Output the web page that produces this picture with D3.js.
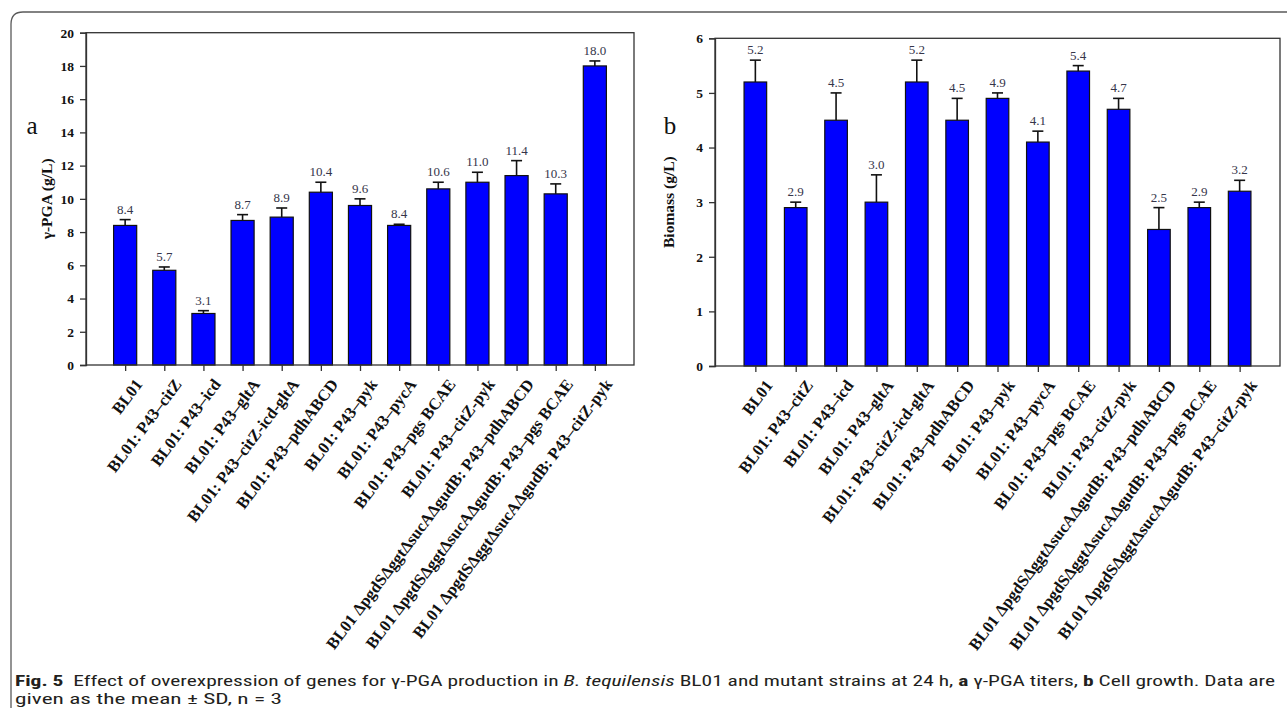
<!DOCTYPE html>
<html>
<head>
<meta charset="utf-8">
<script src="https://cdn.jsdelivr.net/npm/d3@7/dist/d3.min.js"></script>
<style>
  html, body { margin: 0; padding: 0; background: #fff; }
  svg { display: block; }
</style>
</head>
<body>
<svg id="fig" width="1287" height="708"></svg>
<script>
// Strains tested (same order in both panels)
const strains = [
  "BL01",
  "BL01: P43–citZ",
  "BL01: P43–icd",
  "BL01: P43–gltA",
  "BL01: P43–citZ-icd-gltA",
  "BL01: P43–pdhABCD",
  "BL01: P43–pyk",
  "BL01: P43–pycA",
  "BL01: P43–pgs BCAE",
  "BL01: P43–citZ-pyk",
  "BL01 ΔpgdSΔggtΔsucAΔgudB: P43–pdhABCD",
  "BL01 ΔpgdSΔggtΔsucAΔgudB: P43–pgs BCAE",
  "BL01 ΔpgdSΔggtΔsucAΔgudB: P43–citZ-pyk"
];

// Panel a: γ-PGA titer (g/L), mean and SD
const titer   = [8.4, 5.7, 3.1, 8.7, 8.9, 10.4, 9.6, 8.4, 10.6, 11.0, 11.4, 10.3, 18.0];
const titerSD = [0.35, 0.2, 0.17, 0.35, 0.55, 0.6, 0.4, 0.07, 0.4, 0.6, 0.9, 0.6, 0.3];

// Panel b: biomass (g/L), mean and SD
const biomass   = [5.2, 2.9, 4.5, 3.0, 5.2, 4.5, 4.9, 4.1, 5.4, 4.7, 2.5, 2.9, 3.2];
const biomassSD = [0.4, 0.1, 0.5, 0.5, 0.4, 0.4, 0.1, 0.2, 0.1, 0.2, 0.4, 0.1, 0.2];

const titerTicks   = [0, 2, 4, 6, 8, 10, 12, 14, 16, 18, 20];
const biomassTicks = [0, 1, 2, 3, 4, 5, 6];

const svg = d3.select("#fig");
const serif = "'Liberation Serif', 'Times New Roman', serif";

// Outer rounded frame of the figure
svg.append("path")
  .attr("d", "M11,720 L11,24 Q11,12 23,12 L1300,12")
  .attr("fill", "none").attr("stroke", "#5a5a5a").attr("stroke-width", 1.3);

function panel(opts) {
  const { left, right, top, bottom, max, ticks, values, sds, ylabel, letter,
          ylabelX, letterX, letterY, barFrac } = opts;
  const g = svg.append("g");

  const x = d3.scalePoint().domain(strains).range([left, right]).padding(1);
  const y = d3.scaleLinear().domain([0, max]).range([bottom, top]);
  const bw = x.step() * barFrac;

  // bars
  g.selectAll("rect.bar").data(values).join("rect")
    .attr("class", "bar")
    .attr("x", (d, i) => x(strains[i]) - bw / 2)
    .attr("y", d => y(d))
    .attr("width", bw)
    .attr("height", d => y(0) - y(d))
    .attr("fill", "#0000ff")
    .attr("stroke", "#111").attr("stroke-width", 1.2);

  // upper error bars
  const err = g.append("g").attr("stroke", "#111").attr("stroke-width", 1.6);
  values.forEach((v, i) => {
    const cx = x(strains[i]);
    err.append("line").attr("x1", cx).attr("x2", cx)
      .attr("y1", y(v)).attr("y2", y(v + sds[i]));
    err.append("line").attr("x1", cx - 5.5).attr("x2", cx + 5.5)
      .attr("y1", y(v + sds[i])).attr("y2", y(v + sds[i]));
  });

  // value labels
  g.selectAll("text.val").data(values).join("text")
    .attr("class", "val")
    .attr("x", (d, i) => x(strains[i]))
    .attr("y", (d, i) => y(d + sds[i]) - 6)
    .attr("text-anchor", "middle")
    .attr("font-family", serif).attr("font-size", 13)
    .attr("fill", "#35354a")
    .text(d => d.toFixed(1));

  // plot frame
  g.append("rect")
    .attr("x", left).attr("y", top)
    .attr("width", right - left).attr("height", bottom - top)
    .attr("fill", "none").attr("stroke", "#333").attr("stroke-width", 1.3);

  // y axis
  const ya = g.append("g").attr("transform", `translate(${left},0)`)
    .call(d3.axisLeft(y).tickValues(ticks).tickSize(6).tickPadding(6).tickFormat(d3.format("d")));
  ya.select(".domain").attr("stroke", "#333").attr("stroke-width", 1.3);
  ya.selectAll(".tick line").attr("stroke", "#333").attr("stroke-width", 1.3);
  ya.selectAll(".tick text")
    .attr("font-family", serif).attr("font-size", 13.5).attr("font-weight", "bold")
    .attr("fill", "#111");

  // x axis with rotated strain names
  const xa = g.append("g").attr("transform", `translate(0,${bottom})`)
    .call(d3.axisBottom(x).tickSize(6).tickPadding(4));
  xa.select(".domain").remove();
  xa.selectAll(".tick line").attr("stroke", "#333").attr("stroke-width", 1.3);
  xa.selectAll(".tick text")
    .attr("font-family", serif).attr("font-size", 16.5).attr("font-weight", "bold")
    .attr("fill", "#111")
    .attr("text-anchor", "end")
    .attr("dy", "0.35em")
    .attr("transform", "translate(5,10) rotate(-53)");

  // y axis title
  g.append("text")
    .attr("transform", `translate(${ylabelX},${(top + bottom) / 2}) rotate(-90)`)
    .attr("text-anchor", "middle")
    .attr("font-family", serif).attr("font-size", 15.5).attr("font-weight", "bold")
    .attr("fill", "#111")
    .text(ylabel);

  // panel letter
  g.append("text")
    .attr("x", letterX).attr("y", letterY)
    .attr("text-anchor", "middle")
    .attr("font-family", serif).attr("font-size", 25)
    .attr("fill", "#111")
    .text(letter);
}

panel({ left: 86, right: 634, top: 32.7, bottom: 365, max: 20, ticks: titerTicks,
        values: titer, sds: titerSD, ylabel: "γ-PGA (g/L)", letter: "a",
        ylabelX: 52, letterX: 32, letterY: 134, barFrac: 0.59 });

panel({ left: 715, right: 1280, top: 38.3, bottom: 366, max: 6, ticks: biomassTicks,
        values: biomass, sds: biomassSD, ylabel: "Biomass (g/L)", letter: "b",
        ylabelX: 674, letterX: 670, letterY: 134, barFrac: 0.56 });

// Caption (condensed sans, two lines)
const sans = "'Liberation Sans Narrow', 'Roboto Condensed', 'Liberation Sans', sans-serif";
const cap1 = svg.append("text")
  .attr("x", 15).attr("y", 685.5)
  .attr("font-family", sans).attr("font-size", 15).attr("fill", "#231f20");
[
  ["Fig. 5", "bold", "normal"],
  ["  Effect of overexpression of genes for γ-PGA production in ", "normal", "normal"],
  ["B. tequilensis", "normal", "italic"],
  [" BL01 and mutant strains at 24 h, ", "normal", "normal"],
  ["a", "bold", "normal"],
  [" γ-PGA titers, ", "normal", "normal"],
  ["b", "bold", "normal"],
  [" Cell growth. Data are", "normal", "normal"]
].forEach(([t, w, s]) => {
  cap1.append("tspan").attr("font-weight", w).attr("font-style", s)
    .attr("xml:space", "preserve").text(t);
});
cap1.attr("textLength", 1260).attr("lengthAdjust", "spacingAndGlyphs");

svg.append("text")
  .attr("x", 15).attr("y", 703.5)
  .attr("font-family", sans).attr("font-size", 15).attr("fill", "#231f20")
  .attr("textLength", 267).attr("lengthAdjust", "spacingAndGlyphs")
  .text("given as the mean ± SD, n = 3");
</script>
</body>
</html>
